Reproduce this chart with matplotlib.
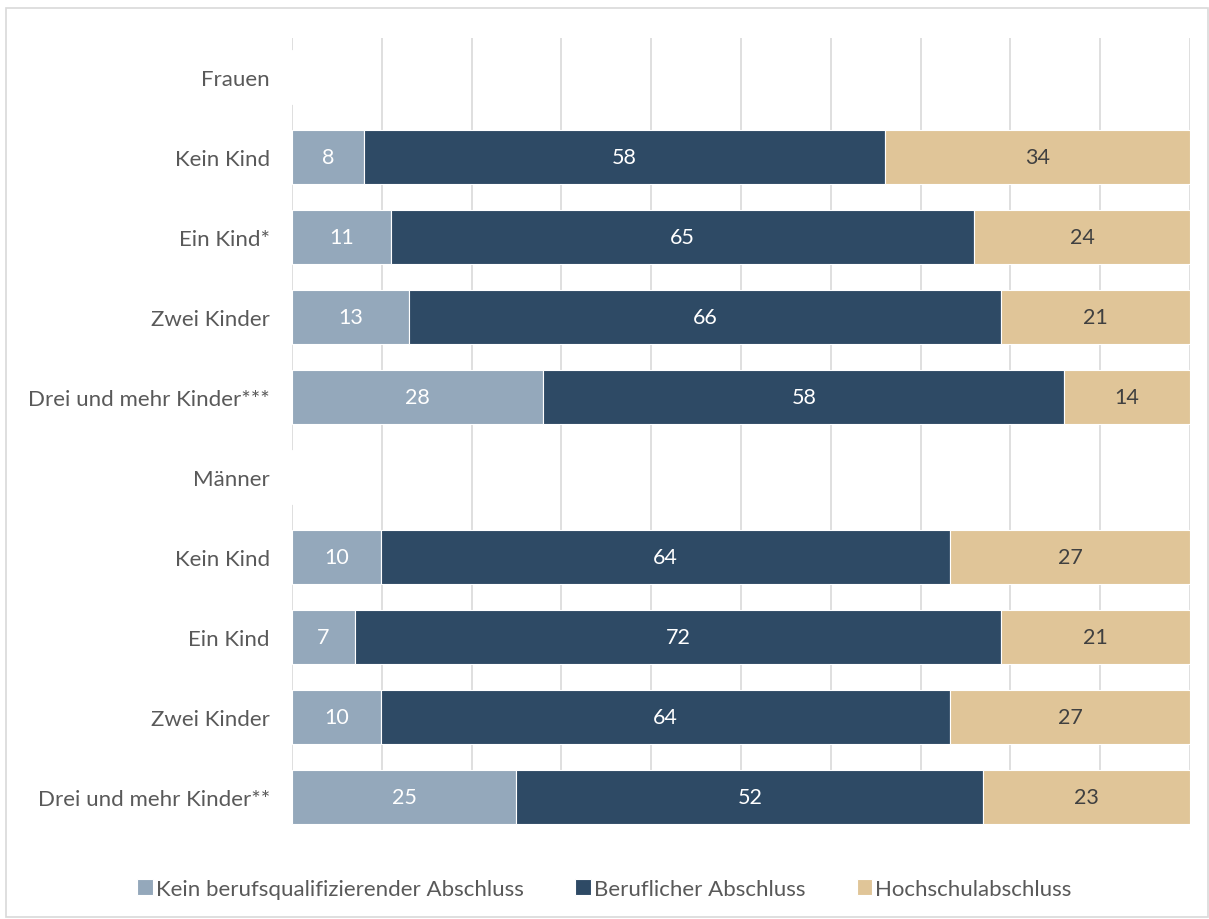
import numpy as np
import matplotlib.pyplot as plt
from matplotlib.patches import Rectangle

plt.rcParams['font.family'] = ['Lato', 'DejaVu Sans']

categories = ['Frauen', 'Kein Kind', 'Ein Kind*', 'Zwei Kinder', 'Drei und mehr Kinder***',
              'Männer', 'Kein Kind', 'Ein Kind', 'Zwei Kinder', 'Drei und mehr Kinder**']
kein_abschluss = [np.nan, 8, 11, 13, 28, np.nan, 10, 7, 10, 25]
beruflich = [np.nan, 58, 65, 66, 58, np.nan, 64, 72, 64, 52]
hochschule = [np.nan, 34, 24, 21, 14, np.nan, 27, 21, 27, 23]
series_names = ['Kein berufsqualifizierender Abschluss', 'Beruflicher Abschluss', 'Hochschulabschluss']

colors = ['#94A8BB', '#2E4A65', '#E0C598']
label_colors = ['white', 'white', '#404040']

data = np.array([kein_abschluss, beruflich, hochschule], dtype=float)
total = np.nansum(data, axis=0)
share = np.where(total > 0, data / np.where(total > 0, total, 1) * 100, np.nan)

fig = plt.figure(figsize=(12.09, 9.2), dpi=100)
fig.patches.append(Rectangle((0.005, 0.002), 0.994, 0.988, transform=fig.transFigure,
                             fill=False, edgecolor='#D9D9D9', linewidth=1.2))
ax = fig.add_axes([0.2415, 0.1022, 0.7428, 0.8554])

y = np.arange(len(categories))
left = np.zeros(len(categories))
for k in range(3):
    w = np.nan_to_num(share[k])
    bars = ax.barh(y, w, left=left, height=0.67, color=colors[k], edgecolor='white',
                   linewidth=0.8, label=series_names[k], zorder=3)
    for i in range(len(categories)):
        if not np.isnan(data[k, i]):
            ax.text(left[i] + w[i] / 2, y[i], '%d' % data[k, i], ha='center', va='center',
                    fontsize=15.5, color=label_colors[k], zorder=4)
    left = left + w

ax.set_xlim(0, 100)
ax.set_ylim(9.35, -0.49)
ax.set_xticks(np.arange(0, 101, 10))
ax.set_xticklabels([])
ax.tick_params(axis='x', length=0)
ax.tick_params(axis='y', length=0, pad=16, labelsize=16, labelcolor='#595959')
ax.set_yticks(y)
ax.set_yticklabels(categories)
ax.grid(axis='x', color='#D9D9D9', linewidth=1.2, zorder=0)
for s in ax.spines.values():
    s.set_visible(False)

fig.legend(loc='center', bbox_to_anchor=(0.5, 0.033), ncol=3, frameon=False,
           fontsize=16, labelcolor='#595959', handlelength=0.7, handleheight=0.7,
           handletextpad=0.15, columnspacing=2.3)

fig.savefig('out.png', dpi=100)
